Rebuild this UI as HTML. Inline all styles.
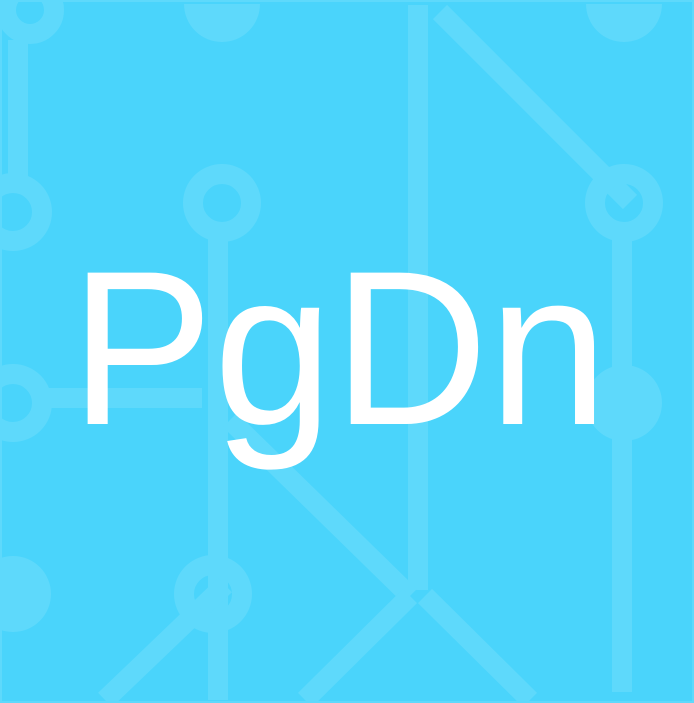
<!DOCTYPE html>
<html><head><meta charset="utf-8"><style>
html,body{margin:0;padding:0;background:#4ad4fb;}
svg{display:block;}
</style></head><body>
<svg width="694" height="703" viewBox="0 0 694 703">
<rect x="0" y="0" width="694" height="703" fill="#4ad4fb"/>
<g fill="none" stroke="#5ed9fb">
  <g stroke-width="20">
    <line x1="18" y1="40" x2="18" y2="180"/>
    <line x1="218" y1="235" x2="218" y2="700"/>
    <line x1="622" y1="230" x2="622" y2="692"/>
    <line x1="418" y1="5" x2="418" y2="590"/>
    <line x1="45" y1="398" x2="202" y2="398"/>
    <line x1="440" y1="12" x2="630" y2="202"/>
    <line x1="230" y1="420" x2="410" y2="596"/>
    <line x1="410" y1="596" x2="305" y2="700"/>
    <line x1="425" y1="596" x2="530" y2="700"/>
    <line x1="225" y1="585" x2="105" y2="700"/>
    <circle cx="13" cy="212" r="29"/>
    <circle cx="222" cy="203" r="29"/>
    <circle cx="13" cy="403" r="29"/>
    <circle cx="213" cy="594" r="29"/>
    <circle cx="624" cy="203" r="29"/>
    <circle cx="30" cy="10" r="24"/>
  </g>
  <g fill="#5ed9fb" stroke="none">
    <circle cx="13" cy="594" r="38"/>
    <circle cx="624" cy="403" r="38"/>
    <path d="M184 4 A38 38 0 0 0 260 4 Z"/>
    <path d="M586 4 A38 38 0 0 0 662 4 Z"/>
  </g>
</g>
<rect x="1" y="1" width="692" height="701" fill="none" stroke="#5ed9fb" stroke-width="2"/>
<text x="70" y="424" fill="#ffffff" font-family="'Liberation Sans', sans-serif" font-size="220" textLength="538" lengthAdjust="spacingAndGlyphs">PgDn</text>
</svg>
</body></html>
